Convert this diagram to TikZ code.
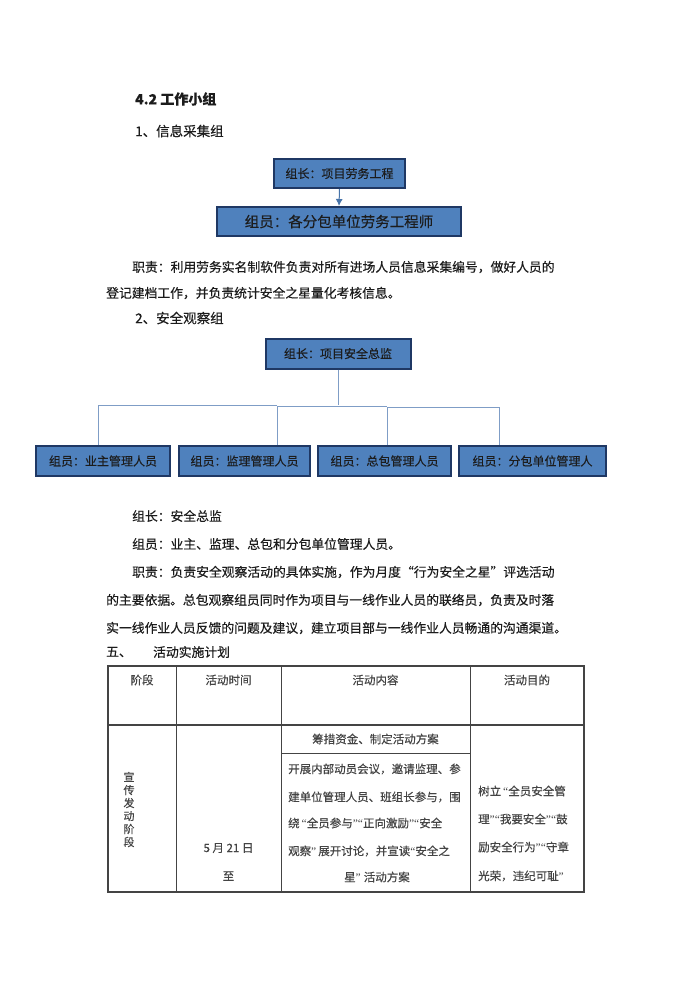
\documentclass[tikz,border=0pt]{standalone}
\usepackage{fontspec}
\setmainfont{Noto Sans CJK SC}[FakeBold=0.35]
\newfontfamily\quotefont{Liberation Serif}
\usetikzlibrary{arrows,arrows.meta,shapes,calc,positioning}
\XeTeXlinebreaklocale "zh"
\XeTeXlinebreakskip=0pt plus 1pt minus 0.6pt
\definecolor{boxblue}{HTML}{4F81BD}
\definecolor{boxedge}{HTML}{1F3864}
\definecolor{linkblue}{HTML}{7F9DC6}
\definecolor{inkgray}{HTML}{1C1C1C}
\definecolor{tabgray}{HTML}{444444}
\newcommand{\spreadline}[2]{\makebox[#1][s]{#2}}
\newcommand{\qopen}{{\quotefont “}}
\newcommand{\qclose}{{\quotefont ”}}
\tikzset{box/.style={
            draw=boxedge,
            fill=boxblue,
            line width=2pt,
            inner sep=0pt,
            text=inkgray,
            font=\fontsize{12}{14}\selectfont
        },
        link/.style={
            linkblue,
            line width=0.9pt
        },
        body/.style={
            anchor=west,
            inner sep=0pt,
            text=inkgray,
            font=\fontsize{12.8}{15}\selectfont
        },
        cell/.style={
            inner sep=0pt,
            text=tabgray,
            font=\fontsize{11.5}{13}\selectfont
        },
        tabrule/.style={
            tabgray,
            line width=0.8pt
        }
    }
\begin{document}
\begin{tikzpicture}[x=1pt,y=-1pt]
        \useasboundingbox[fill=white] (0,0) rectangle (700,990);
        % headings
        \node[body,font=\fontsize{14}{16}\selectfont\bfseries] at (135,99) (title) {4.2 工作小组};
        \node[body,font=\fontsize{13.5}{16}\selectfont] at (135,131) (group1) {1、信息采集组};
        % chart 1
        \node[box,minimum width=131,minimum height=29] at (339.5,173.5) (lead1) {组长：项目劳务工程};
        \node[box,minimum width=244,minimum height=29,font=\fontsize{14.5}{16}\selectfont] at (339,221.5) (crew1) {组员：各分包单位劳务工程师};
        \draw[-{Latex[length=7pt,width=7pt]}, boxblue!90!black, line width=1pt] (lead1.south) -- (crew1.north);
        \node[body] at (132,267) (duty1a) {\spreadline{436pt}{职责：利用劳务实名制软件负责对所有进场人员信息采集编号，做好人员的}};
        \node[body] at (106,293) (duty1b) {登记建档工作，并负责统计安全之星量化考核信息。};
        \node[body,font=\fontsize{13.5}{16}\selectfont] at (135,318) (group2) {2、安全观察组};
        % chart 2
        \node[box,minimum width=145,minimum height=30] at (338,353.5) (lead2) {组长：项目安全总监};
        \node[box,minimum width=134,minimum height=30] at (103,461) (m1) {组员：业主管理人员};
        \node[box,minimum width=131,minimum height=30] at (244.5,461) (m2) {组员：监理管理人员};
        \node[box,minimum width=133,minimum height=30] at (384.5,461) (m3) {组员：总包管理人员};
        \node[box,minimum width=147,minimum height=30] at (532.5,461) (m4) {组员：分包单位管理人};
        \coordinate (d1) at (98,404);
        \coordinate (d2) at (277,405);
        \coordinate (d3) at (387,406);
        \coordinate (d4) at (499,407);
        \draw[link] (lead2.south) -- (lead2.south |- d2);
        \draw[link] (m1.north -| d1) |- (d2);
        \draw[link] (m2.north -| d2) |- (d3);
        \draw[link] (m3.north -| d3) |- (d4);
        \draw[link] (m4.north -| d4) -- (d4);
        % text of group 2
        \node[body] at (132,516) (chief) {组长：安全总监};
        \node[body] at (132,544) (members) {组员：业主、监理、总包和分包单位管理人员。};
        \node[body] at (132,572) (duty2a) {\spreadline{428pt}{职责：负责安全观察活动的具体实施，作为月度“行为安全之星”评选活动}};
        \node[body] at (106,600) (duty2b) {\spreadline{462pt}{的主要依据。总包观察组员同时作为项目与一线作业人员的联络员，负责及时落}};
        \node[body] at (106,628) (duty2c) {\spreadline{464pt}{实一线作业人员反馈的问题及建议，建立项目部与一线作业人员畅通的沟通渠道。}};
        \node[body] at (106,652) (sec5) {五、};
        \node[body] at (153,652) (plan) {活动实施计划};
        % table
        \draw[tabrule, line width=1.1pt] (108,666) rectangle (584,892);
        \foreach \cx in {176,281,470}
            \draw[tabrule] (\cx,666) -- (\cx,892);
        \draw[tabrule, line width=1.1pt] (108,725) -- (584,725);
        \draw[tabrule] (281,753) -- (470,753);
        \node[cell] at (142,680) (hstage) {阶段};
        \node[cell] at (228.5,680) (htime) {活动时间};
        \node[cell] at (375.5,680) (hwork) {活动内容};
        \node[cell] at (527,680) (hgoal) {活动目的};
        \node[cell,align=center,text width=12pt,font=\fontsize{11}{13}\selectfont] at (129,809.5) (stage) {宣\\传\\发\\动\\阶\\段};
        \node[cell] at (228.5,848) (date) {5 月 21 日};
        \node[cell] at (228.5,876) (till) {至};
        \node[cell] at (375.5,739) (fund) {筹措资金、制定活动方案};
        \node[cell,anchor=west] at (288,769) (w1) {\spreadline{175pt}{开展内部动员会议，邀请监理、参}};
        \node[cell,anchor=west] at (288,797) (w2) {\spreadline{175pt}{建单位管理人员、班组长参与，围}};
        \node[cell,anchor=west] at (288,823) (w3) {\spreadline{175pt}{绕\kern2pt\qopen 全员参与\qclose\qopen 正向激励\qclose\qopen 安全}};
        \node[cell,anchor=west] at (288,851) (w4) {\spreadline{175pt}{观察\qclose\kern2pt 展开讨论，并宣读\qopen 安全之}};
        \node[cell] at (377,877) (w5) {星\qclose\kern3pt 活动方案};
        \node[cell,anchor=west] at (478,791) (g1) {\spreadline{97pt}{树立\kern2pt\qopen 全员安全管}};
        \node[cell,anchor=west] at (478,819) (g2) {\spreadline{97pt}{理\qclose\qopen 我要安全\qclose\qopen 鼓}};
        \node[cell,anchor=west] at (478,847) (g3) {\spreadline{97pt}{励安全行为\qclose\qopen 守章}};
        \node[cell,anchor=west] at (478,876) (g4) {\spreadline{97pt}{光荣，违纪可耻\qclose}};
    \end{tikzpicture}
\end{document}
